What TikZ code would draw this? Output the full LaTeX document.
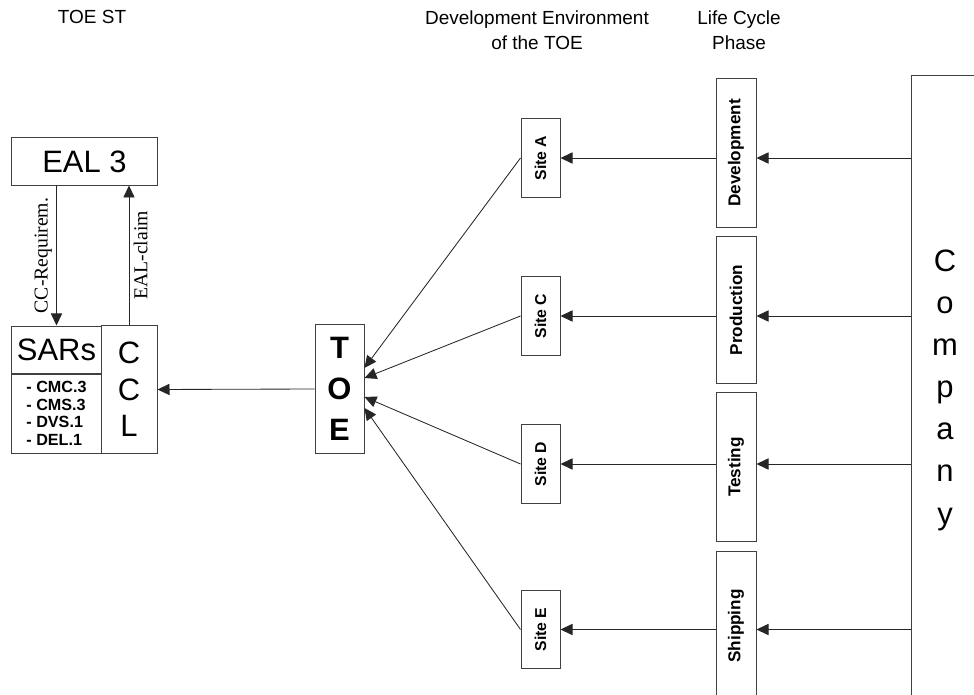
\documentclass[tikz,border=0pt]{standalone}
\usepackage{fontspec}
\usepackage{graphicx}
\setmainfont{Liberation Sans}
\newfontfamily\timesfont{Liberation Serif}
\usetikzlibrary{arrows.meta}
\tikzset{
  box/.style={draw=black!75, line width=0.7pt, inner sep=0pt, align=center},
  site/.style={box, minimum width=0.975cm, minimum height=1.95cm, font=\fontsize{11.2}{12}\selectfont\bfseries},
  phase/.style={box, minimum width=1cm, minimum height=3.7cm, font=\fontsize{12.2}{13}\selectfont\bfseries},
  big/.style={font=\fontsize{22}{26}\selectfont},
  head/.style={font=\fontsize{13.5}{17.5}\selectfont, align=center},
  flow/.style={-{Triangle[length=3mm, width=2.8mm]}, line width=0.6pt, draw=black!85},
  lbl/.style={font=\timesfont\fontsize{14}{16}\selectfont, rotate=90, inner sep=3pt},
}

\begin{document}
\begin{tikzpicture}[x=0.025cm, y=-0.025cm]
  \clip (0,0) rectangle (974,695);
  % headings
  \node[head] (toest) at (92,17) {TOE ST};
  \node[head] (devenv) at (537,30) {Development Environment\\of the TOE};
  \node[head] (lifecycle) at (739,30) {Life Cycle\\Phase};
  % security target
  \node[box, big, minimum width=3.625cm, minimum height=1.175cm] (eal) at (84.5,161.5) {EAL 3};
  \node[box, big, minimum width=2.225cm, minimum height=1.2cm] (sarshead) at (56.5,350) {SARs};
  \node[box, minimum width=2.225cm, minimum height=1.975cm, align=left,
        font=\fontsize{11.5}{12.4}\selectfont\bfseries] (sarslist) at (56.5,413.5) {- CMC.3\\- CMS.3\\- DVS.1\\- DEL.1};
  \node[box, big, minimum width=1.4cm, minimum height=3.175cm] (ccl) at (129,389.5) {C\\C\\L};
  \node[box, minimum width=1.225cm, minimum height=3.2cm,
        font=\fontsize{22}{29}\selectfont\bfseries] (toe) at (339.5,389) {T\\O\\E};
  % sites
  \node[site] (siteA) at (540.5,158) {\rotatebox{90}{Site A}};
  \node[site] (siteC) at (540.5,316) {\rotatebox{90}{Site C}};
  \node[site] (siteD) at (540.5,464) {\rotatebox{90}{Site D}};
  \node[site] (siteE) at (540.5,629.5) {\rotatebox{90}{Site E}};
  % phases
  \node[phase] (dev) at (736,153) {\rotatebox{90}{Development}};
  \node[phase, minimum height=3.65cm] (prod) at (736,310) {\rotatebox{90}{Production}};
  \node[phase] (test) at (736,467) {\rotatebox{90}{Testing}};
  \node[phase] (ship) at (736,626) {\rotatebox{90}{Shipping}};
  \node[box, minimum width=1.7cm, minimum height=15.7cm,
        font=\fontsize{22}{30}\selectfont] (company) at (945,390) {C\\o\\m\\p\\a\\n\\y};
  % connectors
  \draw[flow] (sarshead.north |- eal.south) -- node[lbl, anchor=south] {CC-Requirem.} (sarshead.north);
  \draw[flow] (ccl.north) -- node[lbl, anchor=north] {EAL-claim} (ccl.north |- eal.south);
  \draw[flow] (toe.west) -- (ccl.east);
  \draw[flow] (siteA.west) -- ([yshift=15pt]toe.east);
  \draw[flow] (siteC.west) -- ([yshift=7.8pt]toe.east);
  \draw[flow] (siteD.west) -- ([yshift=-5.7pt]toe.east);
  \draw[flow] (siteE.west) -- ([yshift=-13.5pt]toe.east);
  \foreach \s/\p in {siteA/dev, siteC/prod, siteD/test, siteE/ship} {
    \draw[flow] (\p.west |- \s.east) -- (\s.east);
    \draw[flow] (company.west |- \s.east) -- (\p.east |- \s.east);
  }
\end{tikzpicture}
\end{document}
